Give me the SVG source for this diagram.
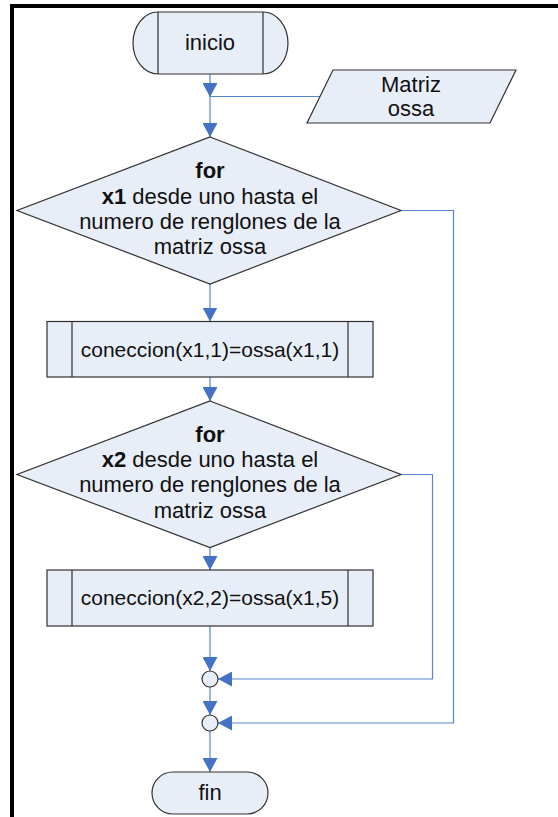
<svg xmlns="http://www.w3.org/2000/svg" width="558" height="817" viewBox="0 0 558 817">
<defs>
<style>
.shape{fill:#E8EEF8;stroke:#303030;stroke-width:1.2}
.inner{fill:none;stroke:#303030;stroke-width:1.2}
.con{fill:none;stroke:#5585CF;stroke-width:1.2}
.t{font-family:"Liberation Sans",Arial,sans-serif;font-size:22px;fill:#111;text-anchor:middle}
.p{font-size:21px}
.b{font-weight:bold}
</style>
<marker id="arr" markerUnits="userSpaceOnUse" markerWidth="14" markerHeight="15" refX="14" refY="7.5" orient="auto" viewBox="0 0 14 15">
<path d="M0,0 L14,7.5 L0,15 z" fill="#4472C4"/>
</marker>
</defs>
<rect width="558" height="817" fill="#fff"/>
<g id="frame">
<rect x="10" y="4" width="548" height="4" fill="#000"/>
<rect x="10" y="4" width="4" height="813" fill="#000"/>
</g>
<g id="connectors">
<line class="con" x1="210" y1="74" x2="210" y2="97" marker-end="url(#arr)"/>
<line class="con" x1="320" y1="96.5" x2="210" y2="96.5"/>
<line class="con" x1="210" y1="97" x2="210" y2="137" marker-end="url(#arr)"/>
<line class="con" x1="210" y1="284" x2="210" y2="321.5" marker-end="url(#arr)"/>
<line class="con" x1="210" y1="377" x2="210" y2="401" marker-end="url(#arr)"/>
<line class="con" x1="210" y1="547" x2="210" y2="570" marker-end="url(#arr)"/>
<line class="con" x1="210" y1="626" x2="210" y2="671" marker-end="url(#arr)"/>
<polyline class="con" points="401,474.5 432.5,474.5 432.5,679 218,679" marker-end="url(#arr)"/>
<line class="con" x1="210" y1="687" x2="210" y2="715" marker-end="url(#arr)"/>
<polyline class="con" points="401,210.5 453.5,210.5 453.5,723 218,723" marker-end="url(#arr)"/>
<line class="con" x1="210" y1="731" x2="210" y2="772" marker-end="url(#arr)"/>
</g>
<g id="inicio">
<path class="shape" d="M158,12 L263,12 A25,31 0 0 1 263,74 L158,74 A25,31 0 0 1 158,12 z"/>
<line class="inner" x1="158" y1="12" x2="158" y2="74"/>
<line class="inner" x1="263" y1="12" x2="263" y2="74"/>
<text class="t" x="210" y="50">inicio</text>
</g>
<g id="matriz">
<polygon class="shape" points="333,70 516,70 490,123 307,123"/>
<text class="t" x="411" y="92">Matriz</text>
<text class="t" x="411" y="116">ossa</text>
</g>
<g id="for1">
<polygon class="shape" points="210,137 401,210.5 210,284 17,210.5"/>
<text class="t b" x="210" y="178">for</text>
<text class="t" x="210" y="204"><tspan class="b">x1</tspan> desde uno hasta el</text>
<text class="t" x="210" y="229">numero de renglones de la</text>
<text class="t" x="210" y="254">matriz ossa</text>
</g>
<g id="proc1">
<rect class="shape" x="47" y="321.5" width="326" height="55.5"/>
<line class="inner" x1="72" y1="321.5" x2="72" y2="377"/>
<line class="inner" x1="348" y1="321.5" x2="348" y2="377"/>
<text class="t p" x="210" y="357">coneccion(x1,1)=ossa(x1,1)</text>
</g>
<g id="for2">
<polygon class="shape" points="210,401 401,474.5 210,547.5 17,474.5"/>
<text class="t b" x="210" y="442">for</text>
<text class="t" x="210" y="467"><tspan class="b">x2</tspan> desde uno hasta el</text>
<text class="t" x="210" y="492">numero de renglones de la</text>
<text class="t" x="210" y="518">matriz ossa</text>
</g>
<g id="proc2">
<rect class="shape" x="47" y="570" width="326" height="56"/>
<line class="inner" x1="72" y1="570" x2="72" y2="626"/>
<line class="inner" x1="348" y1="570" x2="348" y2="626"/>
<text class="t p" x="210" y="605">coneccion(x2,2)=ossa(x1,5)</text>
</g>
<g id="join1">
<circle class="shape" cx="210" cy="679" r="8"/>
</g>
<g id="join2">
<circle class="shape" cx="210" cy="723" r="8"/>
</g>
<g id="fin">
<rect class="shape" x="152" y="772" width="116" height="42" rx="21" ry="21"/>
<text class="t" x="210" y="800">fin</text>
</g>
</svg>
